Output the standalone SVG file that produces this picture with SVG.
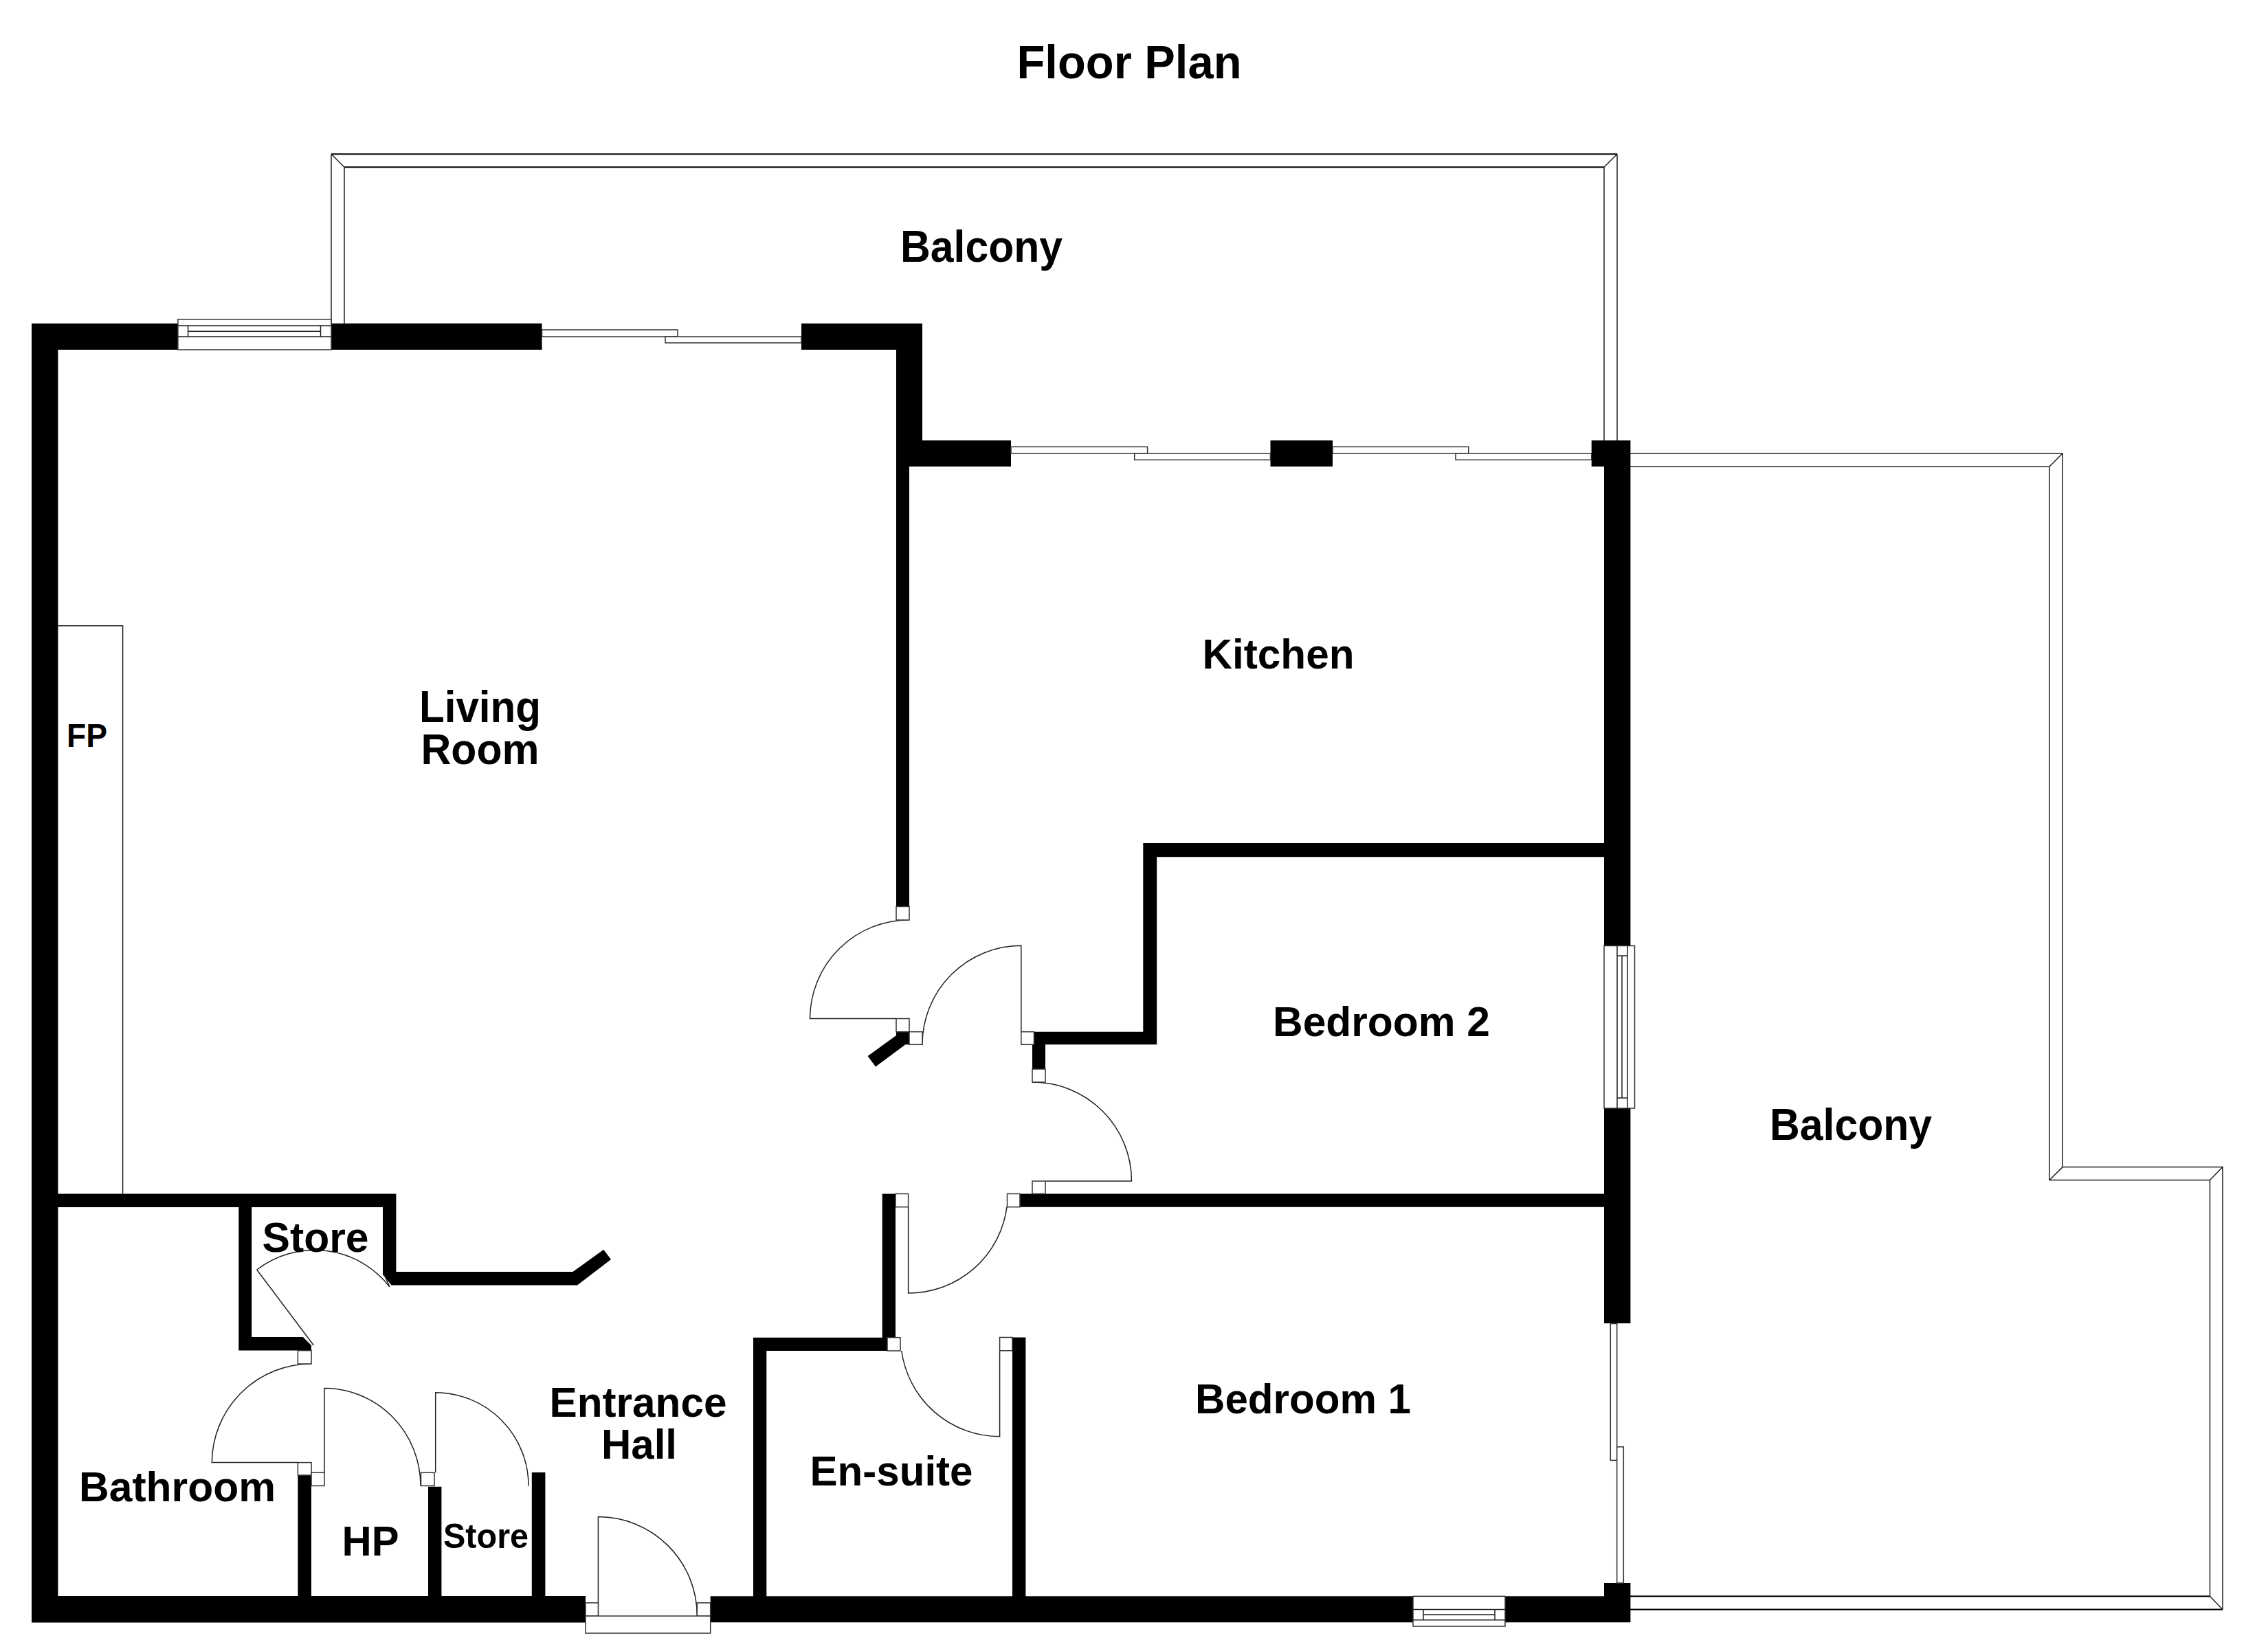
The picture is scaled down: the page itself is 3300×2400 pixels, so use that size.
<svg xmlns="http://www.w3.org/2000/svg" width="3300" height="2400" viewBox="0 0 3300 2400">
<style>
.w{fill:#000;stroke:none}
.l{fill:none;stroke:#222;stroke-width:1.5}
.k{fill:none;stroke:#000;stroke-width:2}
.b{fill:#fff;stroke:#333;stroke-width:1.5}
.t{font-family:"Liberation Sans",Arial,sans-serif;font-weight:700;font-size:62px;fill:#000;text-anchor:middle}
</style>
<rect width="3300" height="2400" fill="#fff"/>
<g id="balconies">
<path class="k" d="M482,224.3H2353M501,243.3H2334"/>
<path class="l" d="M482,470.7V224.3M2353,224.3V641M501,470.7V243.3M2334,243.3V641M482,224.3L501,243.3M2353,224.3L2334,243.3"/>
<path class="k" d="M2372,2342.5H3234M2372,2323.3H3215.5"/>
<path class="l" d="M2372,660H3001V1698.6H3234V2342.5M2372,679H2982V1717.5H3215.5V2323.3M3001,660L2982,679M2982,1717.5L3001,1698.6M3234,1698.6L3215.5,1717.5M3234,2342.5L3215.5,2323.3"/>
</g>
<g id="fireplace"><path class="l" d="M84,910.7H178.6V1737.5"/></g>
<g id="walls">
<path class="w" d="M46,470.7H258.9V509H84.4V1737.5H576.4V1851H833.5L878.3,1818.8L889,1833L840,1870.5H569.5L557,1855V1757H366.2V1946H441L453,1958V1965.6H347.3V1757H84.4V2323H433.4V2147H453V2323H623V2163.8H642.4V2323H773.8V2142.9H793.4V2323H852V2361.6H46Z"/>
<rect class="w" x="482" y="470.7" width="306.5" height="38.3"/>
<path class="w" d="M1166,470.7H1342V641H1471V679H1323V1319.4H1304V509H1166Z"/>
<rect class="w" x="1848.5" y="641" width="90.5" height="38"/>
<path class="w" d="M2315.7,641H2372.4V1376.5H2334V1247.3H1683.2V1520.3H1521V1556H1502V1520.3H1504.5V1501.7H1663.3V1227H2334V679H2315.7Z"/>
<path class="w" d="M2334,1613H2372.4V1926H2334V1756.7H1484V1737.5H2334Z"/>
<path class="w" d="M1304,1501.7H1323V1520.3H1317.4L1274,1552.4L1262.6,1537L1304,1507Z"/>
<path class="w" d="M1283.7,1737.5H1303V1946.7H1291V1966H1115.3V2323.3H1473V1946.5H1492.4V2323.3H2056V2361.3H1033.7V2323.3H1096V1946.7H1283.7Z"/>
<path class="w" d="M2190,2323.3H2334V2304H2372.4V2361.3H2190Z"/>
</g>
<g id="windows">
<rect class="b" x="258.9" y="464.7" width="223.1" height="44.3"/>
<path class="l" d="M258.9,474H482M258.9,490H482M273.6,474V490M466.5,474V490M273.6,482.3H466.5"/>
<rect class="b" x="2334" y="1376.5" width="44.5" height="236.5"/>
<path class="l" d="M2353,1376.5V1613M2368,1376.5V1613M2353,1391H2368M2353,1598H2368M2360,1391V1598"/>
<rect class="b" x="2056" y="2323.3" width="134" height="43.7"/>
<path class="l" d="M2056,2342.6H2190M2056,2357.7H2190M2071,2342.6V2357.7M2175,2342.6V2357.7M2071,2350H2175"/>
</g>
<g id="sliding-doors">
<rect class="b" x="788.5" y="480" width="197.5" height="10"/>
<rect class="b" x="968" y="490" width="198" height="9"/>
<rect class="b" x="1471" y="650.3" width="198.6" height="9.7"/>
<rect class="b" x="1650.7" y="660" width="197.8" height="9.3"/>
<rect class="b" x="1939" y="650.3" width="197.8" height="9.7"/>
<rect class="b" x="2118" y="660" width="197.7" height="9.3"/>
<rect class="b" x="2343.3" y="1926.5" width="9.4" height="198.9"/>
<rect class="b" x="2352.7" y="2105.8" width="9.6" height="198.2"/>
</g>
<g id="doors">
<path class="l" d="M1323,1339A144,144 0 0 0 1178.5,1482.5H1304"/>
<rect class="b" x="1304" y="1319.4" width="19" height="19.6"/>
<rect class="b" x="1304" y="1482.5" width="19" height="19.2"/>
<path class="l" d="M1342,1520.3A144,144 0 0 1 1485.8,1376.3V1501.7"/>
<rect class="b" x="1323" y="1501.7" width="19" height="18.6"/>
<rect class="b" x="1485.8" y="1501.7" width="18.7" height="18.6"/>
<path class="l" d="M1502,1575A144,144 0 0 1 1646.5,1719H1521"/>
<rect class="b" x="1502" y="1556" width="19" height="19"/>
<rect class="b" x="1502" y="1719" width="19" height="18.5"/>
<path class="l" d="M1465,1756.7A144,144 0 0 1 1321.6,1882V1756.7"/>
<rect class="b" x="1465.5" y="1737.5" width="18.5" height="19.2"/>
<rect class="b" x="1303" y="1737.5" width="18.6" height="19.2"/>
<path class="l" d="M1311.8,1966A144,144 0 0 0 1454.6,2090.7V1965.8"/>
<rect class="b" x="1291" y="1946.7" width="19" height="19.3"/>
<rect class="b" x="1454.6" y="1946.5" width="18.4" height="19.3"/>
<path class="l" d="M373.7,1848L456.4,1958M373.7,1848A138,138 0 0 1 567,1873M559,1855L567,1873"/>
<path class="l" d="M453,1985A144.6,144.6 0 0 0 308.3,2128.6H433.4"/>
<rect class="b" x="433.4" y="1965.6" width="19.6" height="19.4"/>
<rect class="b" x="433.4" y="2128.6" width="19.6" height="18.4"/>
<path class="l" d="M472,2143.3V2020.5A140,142 0 0 1 612,2162.5"/>
<rect class="b" x="453" y="2143.3" width="19" height="19.2"/>
<rect class="b" x="612.5" y="2143.3" width="19.5" height="19.2"/>
<path class="l" d="M633.7,2143.3V2026.8A135.6,135.6 0 0 1 769,2162.5"/>
<path class="l" d="M870.4,2352V2207.5A144,144 0 0 1 1014.3,2352"/>
<rect class="b" x="852" y="2332.8" width="18.4" height="19.2"/>
<rect class="b" x="1014.3" y="2332.8" width="19.4" height="19.2"/>
<rect class="b" x="852" y="2352" width="181.7" height="25"/>
</g>
<g id="labels">
<text class="t" x="1643" y="114" style="font-size:68px" textLength="327" lengthAdjust="spacingAndGlyphs">Floor Plan</text>
<text class="t" x="1428" y="381" style="font-size:64px" textLength="236" lengthAdjust="spacingAndGlyphs">Balcony</text>
<text class="t" x="698.5" y="1050.7" style="font-size:64px" textLength="177" lengthAdjust="spacingAndGlyphs">Living</text>
<text class="t" x="698.5" y="1111.7" style="font-size:63px" textLength="172" lengthAdjust="spacingAndGlyphs">Room</text>
<text class="t" x="126.5" y="1086.7" style="font-size:48px" textLength="59" lengthAdjust="spacingAndGlyphs">FP</text>
<text class="t" x="1860" y="972.5" textLength="221" lengthAdjust="spacingAndGlyphs">Kitchen</text>
<text class="t" x="2010" y="1507.5" textLength="316" lengthAdjust="spacingAndGlyphs">Bedroom 2</text>
<text class="t" x="2693" y="1659" style="font-size:64px" textLength="236" lengthAdjust="spacingAndGlyphs">Balcony</text>
<text class="t" x="1896" y="2057" textLength="314" lengthAdjust="spacingAndGlyphs">Bedroom 1</text>
<text class="t" x="459" y="1822" textLength="155" lengthAdjust="spacingAndGlyphs">Store</text>
<text class="t" x="928.5" y="2062" textLength="258" lengthAdjust="spacingAndGlyphs">Entrance</text>
<text class="t" x="930" y="2123" textLength="110" lengthAdjust="spacingAndGlyphs">Hall</text>
<text class="t" x="1297" y="2162" textLength="237" lengthAdjust="spacingAndGlyphs">En-suite</text>
<text class="t" x="258" y="2185" textLength="286" lengthAdjust="spacingAndGlyphs">Bathroom</text>
<text class="t" x="539" y="2264" textLength="83" lengthAdjust="spacingAndGlyphs">HP</text>
<text class="t" x="707" y="2253" style="font-size:50px" textLength="124" lengthAdjust="spacingAndGlyphs">Store</text>
</g>
</svg>
